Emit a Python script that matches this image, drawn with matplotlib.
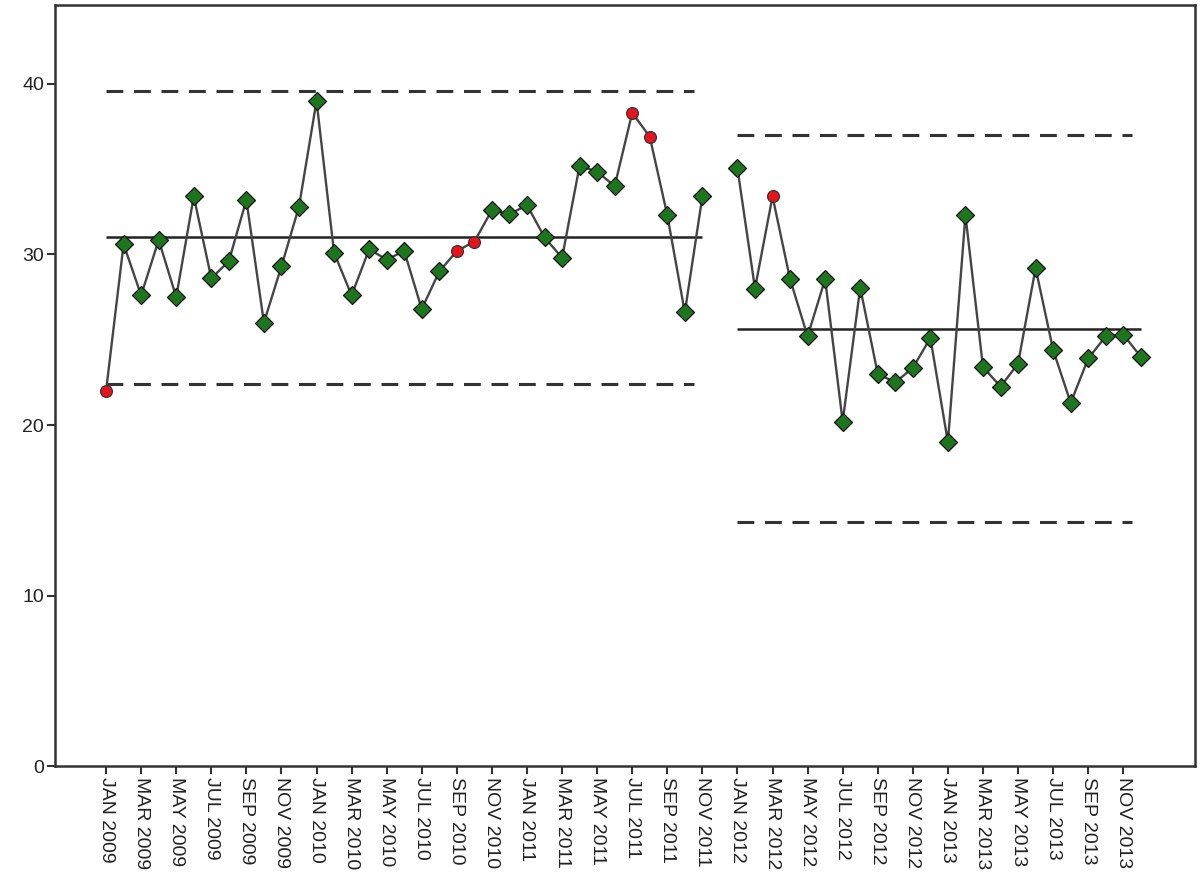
import numpy as np
import matplotlib
matplotlib.use("Agg")
import matplotlib.pyplot as plt

plt.rcParams['font.family'] = ['Liberation Sans', 'DejaVu Sans']

# monthly categories Jan 2009 .. Dec 2013
month_names = ["JAN", "FEB", "MAR", "APR", "MAY", "JUN",
               "JUL", "AUG", "SEP", "OCT", "NOV", "DEC"]
years = [2009, 2010, 2011, 2012, 2013]
months = [f"{m} {y}" for y in years for m in month_names]

# phase 1: Jan 2009 - Nov 2011 (Dec 2011 empty)
phase1_values = [22.0, 30.6, 27.6, 30.85, 27.5, 33.4, 28.6, 29.6, 33.2, 26.0,
                 29.3, 32.8, 39.0, 30.1, 27.6, 30.3, 29.7, 30.2, 26.8, 29.0,
                 30.2, 30.75, 32.6, 32.35, 32.9, 31.0, 29.8, 35.2, 34.85, 34.0,
                 38.3, 36.9, 32.3, 26.6, 33.4]
# phase 2: Jan 2012 - Dec 2013
phase2_values = [35.05, 28.0, 33.4, 28.55, 25.2, 28.55, 20.2, 28.05, 23.0, 22.5,
                 23.35, 25.1, 19.0, 32.3, 23.4, 22.25, 23.6, 29.2, 24.4, 21.3,
                 23.9, 25.2, 25.3, 24.0]

# points flagged by run rules (red)
flagged = ["JAN 2009", "SEP 2010", "OCT 2010", "JUL 2011", "AUG 2011", "MAR 2012"]

# control limits per phase: center, upper, lower
phase1_limits = (31.0, 39.6, 22.4)
phase2_limits = (25.6, 37.0, 14.3)

x1 = np.arange(len(phase1_values))
x2 = np.arange(len(phase2_values)) + 36

fig = plt.figure(figsize=(12, 8.93), dpi=100)
ax = fig.add_axes([0.046, 0.142, 0.95, 0.852])

line_kw = dict(color='#454545', linewidth=1.7, zorder=2)
ax.plot(x1, phase1_values, **line_kw)
ax.plot(x2, phase2_values, **line_kw)

for xs, lims in [(x1, phase1_limits), (x2, phase2_limits)]:
    cl, ucl, lcl = lims
    ax.hlines(cl, xs[0], xs[-1], colors='#222222', linewidth=1.8, zorder=1)
    ax.hlines([ucl, lcl], xs[0], xs[-1] - 0.5, colors='#333333', linewidth=2.2,
              linestyles=(0, (5.5, 3.5)), zorder=1)

all_x = np.concatenate([x1, x2])
all_y = np.array(phase1_values + phase2_values)
is_flag = np.array([months[i] in flagged for i in all_x])

ax.plot(all_x[~is_flag], all_y[~is_flag], linestyle='none', marker='D',
        markersize=9, markerfacecolor='#1d761d', markeredgecolor='#111111',
        markeredgewidth=0.9, zorder=3)
ax.plot(all_x[is_flag], all_y[is_flag], linestyle='none', marker='o',
        markersize=8.5, markerfacecolor='#e8141c', markeredgecolor='#333333',
        markeredgewidth=0.9, zorder=3)

ax.set_xlim(-2.9, 62.1)
ax.set_ylim(0, 44.6)
ax.set_yticks([0, 10, 20, 30, 40])
tick_pos = np.arange(0, len(months), 2)
ax.set_xticks(tick_pos)
ax.set_xticklabels([months[i] for i in tick_pos], rotation=270, fontsize=14,
                   color='#222222')
ax.tick_params(axis='y', labelsize=14, labelcolor='#222222')
ax.tick_params(length=6, width=1.5, color='#333333', direction='out', pad=2)
for s in ax.spines.values():
    s.set_linewidth(1.8)
    s.set_color('#333333')

fig.savefig("out.png", dpi=100)
